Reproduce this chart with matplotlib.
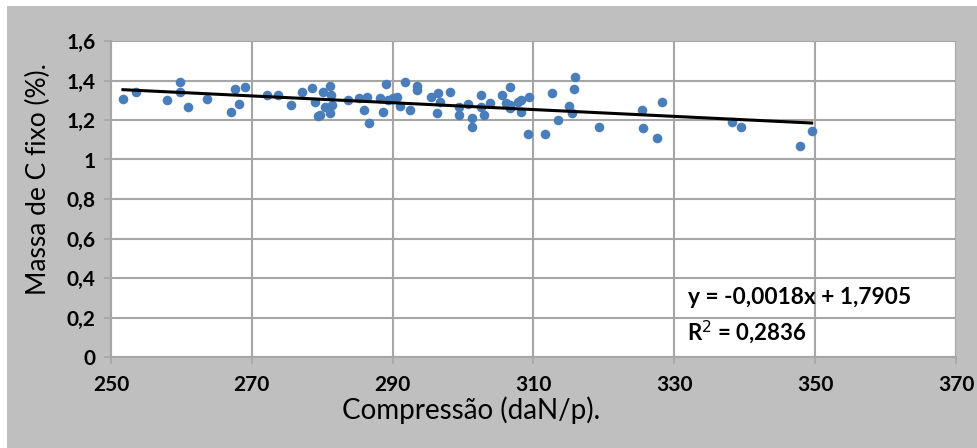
import numpy as np
import matplotlib
matplotlib.use('Agg')
import matplotlib.pyplot as plt
from matplotlib.patches import Rectangle

# Compressão (daN/p) e massa de C fixo (%)
compressao = [251.7, 253.5, 258.0, 259.8, 259.8, 261.0, 263.6, 267.0, 267.6, 268.2,
              269.1, 272.1, 273.7, 275.5, 277.1, 278.6, 278.9, 279.4, 279.7, 280.1,
              280.4, 281.1, 281.2, 281.4, 281.1, 283.7, 285.2, 285.9, 286.3, 286.7,
              288.2, 288.6, 289.0, 289.3, 290.0, 290.6, 291.0, 291.8, 292.4, 293.4,
              293.4, 295.4, 296.4, 296.3, 296.7, 298.1, 299.4, 299.4, 300.7, 301.3,
              301.3, 302.6, 302.6, 302.9, 303.8, 305.5, 306.6, 306.6, 307.8, 306.1,
              306.7, 308.2, 308.2, 309.4, 309.2, 311.7, 312.6, 313.5, 315.1, 315.4,
              315.7, 315.9, 319.3, 325.4, 325.5, 327.6, 328.2, 338.2, 339.5, 347.9,
              349.5]
massa_c = [1.306, 1.340, 1.300, 1.392, 1.340, 1.267, 1.306, 1.242, 1.358, 1.283,
           1.368, 1.327, 1.328, 1.276, 1.340, 1.360, 1.290, 1.220, 1.225, 1.340,
           1.267, 1.374, 1.327, 1.276, 1.234, 1.300, 1.313, 1.250, 1.318, 1.186,
           1.313, 1.242, 1.382, 1.300, 1.313, 1.318, 1.272, 1.390, 1.250, 1.374,
           1.350, 1.318, 1.335, 1.234, 1.293, 1.340, 1.267, 1.225, 1.281, 1.208,
           1.166, 1.327, 1.267, 1.225, 1.288, 1.327, 1.368, 1.276, 1.293, 1.284,
           1.259, 1.300, 1.242, 1.318, 1.127, 1.127, 1.335, 1.200, 1.271, 1.234,
           1.357, 1.416, 1.166, 1.250, 1.157, 1.110, 1.293, 1.191, 1.166, 1.070,
           1.142]

x_ticks = [250, 270, 290, 310, 330, 350, 370]
y_ticks = [0, 0.2, 0.4, 0.6, 0.8, 1, 1.2, 1.4, 1.6]
y_tick_labels = ['0', '0,2', '0,4', '0,6', '0,8', '1', '1,2', '1,4', '1,6']

plt.rcParams['font.family'] = ['Lato', 'DejaVu Sans']

fig = plt.figure(figsize=(9.77, 4.48), dpi=100, facecolor='white')
# fundo cinza do gráfico (margem branca em cima e à esquerda)
fig.patches.append(Rectangle((7 / 977, 0), 1, 442 / 448, transform=fig.transFigure,
                             facecolor='#bfbfbf', edgecolor='none', zorder=-10))

ax = fig.add_axes([111 / 977, (448 - 357) / 448, 845 / 977, 316 / 448])
ax.set_facecolor('white')

ax.scatter(compressao, massa_c, s=48, color='#4a7ebb', zorder=3, linewidths=0)

# linha de tendência linear
coef = np.polyfit(compressao, massa_c, 1)
xs = np.array([min(compressao), max(compressao)])
ax.plot(xs, np.polyval(coef, xs), color='black', lw=2.2, zorder=4)

ax.set_xlim(250, 370)
ax.set_ylim(0, 1.6)
ax.set_xticks(x_ticks)
ax.set_yticks(y_ticks)
ax.set_yticklabels(y_tick_labels)
ax.grid(True, color='#a6a6a6', lw=1.5, zorder=0)
ax.set_axisbelow(True)
for s in ['top', 'right']:
    ax.spines[s].set_visible(False)
for s in ['left', 'bottom']:
    ax.spines[s].set_color('#a6a6a6')
    ax.spines[s].set_linewidth(1.5)
ax.tick_params(colors='#a6a6a6', length=5, width=1.2, labelcolor='black',
               labelsize=15)
for lab in ax.get_xticklabels() + ax.get_yticklabels():
    lab.set_fontweight('bold')
ax.tick_params(axis='x', pad=8)
ax.tick_params(axis='y', pad=6)

ax.set_xlabel('Compressão (daN/p).', fontsize=20)
ax.xaxis.set_label_coords(0.426, -0.168)
ax.set_ylabel('Massa de C fixo (%).', fontsize=19)
ax.yaxis.set_label_coords(-0.0864, 0.563)
ax.xaxis.label.set_va('center')
ax.yaxis.label.set_va('center')

ax.text(332.0, 0.299, 'y = -0,0018x + 1,7905', fontsize=16.4, fontweight='bold',
        va='center', ha='left')
ax.text(331.8, 0.127, 'R$^2$ = 0,2836', fontsize=16, fontweight='bold',
        va='center', ha='left')

fig.savefig('out.png', dpi=100, facecolor=fig.get_facecolor())
